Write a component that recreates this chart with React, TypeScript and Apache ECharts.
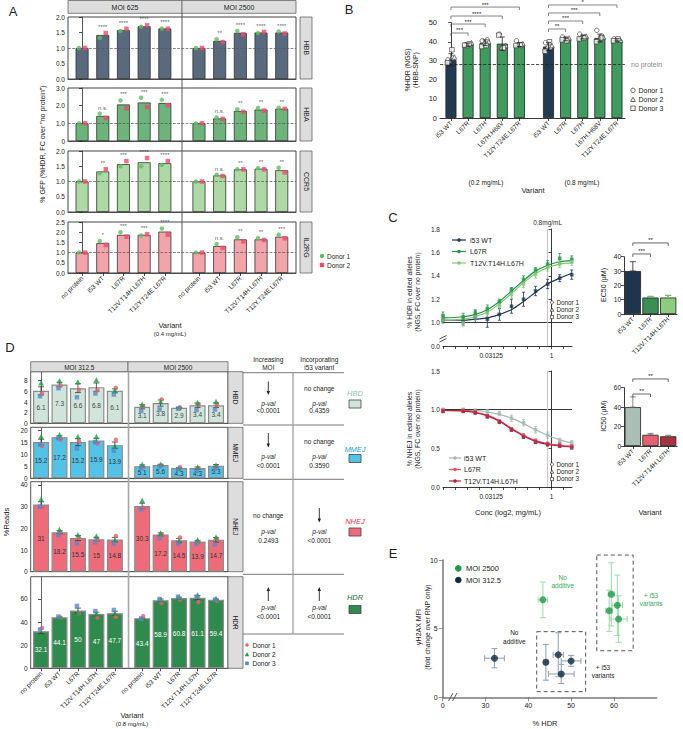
import React, { useEffect, useRef } from "react";
import * as echarts from "echarts";

const FONT = "'Liberation Sans', Arial, Helvetica, sans-serif";

/* ---------------- Panel A data ---------------- */
const A_VARIANTS = ["no protein", "i53 WT", "L67R", "T12V.T14H.L67H", "T12Y.T24E.L67R"];
const A_MOIS = ["MOI 625", "MOI 2500"];
const A_GENES = ["HBB", "HBA", "CCR5", "IL2RG"];
const A_DONORS = ["Donor 1", "Donor 2"];
const A_HBB_BAR = [1.0, 1.42, 1.58, 1.7, 1.63, 1.0, 1.23, 1.49, 1.5, 1.5];
const A_HBB_D1 = [1.0, 1.33, 1.55, 1.69, 1.63, 1.0, 1.28, 1.55, 1.48, 1.53];
const A_HBB_D2 = [1.0, 1.48, 1.62, 1.73, 1.62, 1.0, 1.19, 1.44, 1.52, 1.47];
const A_HBB_SIG = ["", "****", "****", "****", "****", "", "**", "****", "****", "****"];
const A_HBA_BAR = [1.0, 1.42, 2.07, 2.18, 2.15, 1.0, 1.28, 1.7, 1.78, 1.83];
const A_HBA_D1 = [1.0, 1.55, 2.3, 2.45, 2.33, 1.0, 1.33, 1.8, 1.87, 1.88];
const A_HBA_D2 = [1.0, 1.3, 1.85, 1.92, 2.02, 1.0, 1.25, 1.65, 1.72, 1.82];
const A_HBA_SIG = ["", "n.s.", "***", "***", "***", "", "n.s.", "**", "**", "**"];
const A_CCR5_BAR = [1.0, 1.33, 1.57, 1.63, 1.6, 1.0, 1.2, 1.4, 1.42, 1.37];
const A_CCR5_D1 = [1.0, 1.27, 1.5, 1.5, 1.55, 1.0, 1.22, 1.4, 1.44, 1.45];
const A_CCR5_D2 = [1.0, 1.4, 1.67, 1.77, 1.67, 1.0, 1.18, 1.4, 1.4, 1.3];
const A_CCR5_SIG = ["", "**", "***", "****", "****", "", "n.s.", "**", "**", "**"];
const A_IL2RG_BAR = [1.0, 1.47, 1.87, 1.87, 2.03, 1.0, 1.32, 1.65, 1.65, 1.78];
const A_IL2RG_D1 = [1.0, 1.57, 2.0, 1.84, 2.18, 1.0, 1.42, 1.75, 1.7, 1.88];
const A_IL2RG_D2 = [1.0, 1.38, 1.78, 1.9, 1.88, 1.0, 1.23, 1.55, 1.62, 1.7];
const A_IL2RG_SIG = ["", "*", "***", "***", "****", "", "n.s.", "**", "**", "***"];

/* ---------------- Panel B data ---------------- */
const B_VARIANTS = ["i53 WT", "L67R", "L67H", "L67H.H68V", "T12Y.T24E.L67R"];
const B_DOSES = ["(0.2 mg/mL)", "(0.8 mg/mL)"];
const B_MEAN = [30.5, 38.5, 39.5, 39.0, 38.5, 37.5, 41.5, 42.5, 42.0, 41.0];
const B_SD = [3.2, 0.8, 1.5, 3.5, 1.0, 2.2, 1.0, 1.0, 2.0, 0.6];
const B_DONOR1 = [[30.5, 31.5], [38.5, 39.0], [40.5, 41.0], [44.0, 36.5], [40.5, 38.0], [39.5, 37.0], [42.5, 41.0], [44.0, 42.5], [46.0, 43.0], [41.5, 41.0]];
const B_DONOR2 = [[29.8, 32.0], [38.0, 39.5], [39.5, 40.0], [37.0, 38.0], [38.5, 39.0], [37.5, 38.0], [41.5, 42.0], [42.5, 43.0], [41.0, 42.5], [41.0, 40.8]];
const B_DONOR3 = [[29.0, 35.8], [38.2, 38.8], [37.5, 38.0], [43.5, 36.8], [38.0, 38.5], [35.0, 40.0], [41.0, 40.5], [41.5, 42.0], [40.0, 42.0], [40.5, 41.5]];
const B_DONORS = ["Donor 1", "Donor 2", "Donor 3"];
const B_NO_PROTEIN = 28;
const B_SIG = [
  { from: 0, to: 1, y: 44.6, label: "***" },
  { from: 0, to: 2, y: 49.3, label: "***" },
  { from: 0, to: 3, y: 53.5, label: "****" },
  { from: 0, to: 4, y: 58.2, label: "***" },
  { from: 5, to: 6, y: 46.7, label: "**" },
  { from: 5, to: 7, y: 50.9, label: "***" },
  { from: 5, to: 8, y: 55.1, label: "***" },
  { from: 5, to: 9, y: 59.3, label: "*" },
];

/* ---------------- Panel C data ---------------- */
const C_CONC = [0.001953125, 0.00625, 0.0125, 0.025, 0.05, 0.1, 0.2, 0.4, 0.8, 1.6, 3.2];
const C_NAMES = ["i53 WT", "L67R", "T12V.T14H.L67H"];
const C_HDR_WT_MEAN = [1.02, 1.01, 1.05, 1.03, 1.07, 1.14, 1.2, 1.27, 1.33, 1.38, 1.41];
const C_HDR_WT_SD = [0.02, 0.03, 0.05, 0.07, 0.05, 0.06, 0.06, 0.04, 0.04, 0.03, 0.04];
const C_HDR_WT_FIT = [1.02, 1.02, 1.03, 1.04, 1.07, 1.11, 1.18, 1.26, 1.33, 1.38, 1.42];
const C_HDR_L67R_MEAN = [1.06, 1.05, 1.08, 1.12, 1.18, 1.28, 1.37, 1.45, 1.5, 1.55, 1.54];
const C_HDR_L67R_SD = [0.03, 0.03, 0.03, 0.03, 0.02, 0.02, 0.03, 0.02, 0.03, 0.04, 0.03];
const C_HDR_L67R_FIT = [1.04, 1.05, 1.07, 1.11, 1.18, 1.27, 1.36, 1.44, 1.49, 1.52, 1.53];
const C_HDR_T12V_MEAN = [1.02, 1.0, 1.05, 1.08, 1.14, 1.24, 1.33, 1.41, 1.47, 1.5, 1.52];
const C_HDR_T12V_SD = [0.03, 0.03, 0.03, 0.03, 0.03, 0.03, 0.03, 0.03, 0.03, 0.03, 0.03];
const C_HDR_T12V_FIT = [1.02, 1.03, 1.05, 1.09, 1.16, 1.25, 1.34, 1.42, 1.47, 1.5, 1.51];
const C_NHEJ_WT_MEAN = [1.0, 1.0, 0.98, 0.97, 0.95, 0.89, 0.83, 0.74, 0.67, 0.6, 0.57];
const C_NHEJ_WT_SD = [0.02, 0.02, 0.03, 0.03, 0.03, 0.04, 0.04, 0.04, 0.04, 0.03, 0.03];
const C_NHEJ_WT_FIT = [1.0, 0.99, 0.99, 0.97, 0.94, 0.89, 0.82, 0.74, 0.67, 0.61, 0.57];
const C_NHEJ_L67R_MEAN = [0.99, 0.99, 0.97, 0.92, 0.85, 0.75, 0.66, 0.6, 0.56, 0.55, 0.53];
const C_NHEJ_L67R_SD = [0.02, 0.02, 0.02, 0.02, 0.02, 0.02, 0.03, 0.02, 0.02, 0.02, 0.02];
const C_NHEJ_L67R_FIT = [0.99, 0.99, 0.97, 0.93, 0.86, 0.76, 0.67, 0.6, 0.56, 0.54, 0.53];
const C_NHEJ_T12V_MEAN = [0.98, 0.98, 0.96, 0.91, 0.84, 0.74, 0.65, 0.58, 0.55, 0.53, 0.51];
const C_NHEJ_T12V_SD = [0.02, 0.02, 0.02, 0.02, 0.02, 0.02, 0.02, 0.02, 0.02, 0.02, 0.02];
const C_NHEJ_T12V_FIT = [0.99, 0.98, 0.96, 0.92, 0.85, 0.75, 0.66, 0.59, 0.55, 0.53, 0.52];
const C_EC50 = [30, 11.5, 11.5];
const C_EC50_ERR = [6.5, 0.8, 1.5];
const C_IC50 = [40, 11.5, 10];
const C_IC50_ERR = [10.5, 1.5, 1.0];
const C_EC50_SIG = [{ from: 0, to: 1, y: 41.9, label: "***" }, { from: 0, to: 2, y: 49.6, label: "**" }];
const C_IC50_SIG = [{ from: 0, to: 1, y: 53.5, label: "**" }, { from: 0, to: 2, y: 69, label: "**" }];

/* ---------------- Panel D data ---------------- */
const D_VARIANTS = ["no protein", "i53 WT", "L67R", "T12V.T14H.L67H", "T12Y.T24E.L67R"];
const D_MOIS = ["MOI 312.5", "MOI 2500"];
const D_OUTCOMES = ["HBD", "MMEJ", "NHEJ", "HDR"];
const D_HBD = [6.1, 7.3, 6.6, 6.8, 6.1, 3.1, 3.8, 2.9, 3.4, 3.4];
const D_MMEJ = [15.2, 17.2, 15.2, 15.9, 13.9, 5.1, 5.6, 4.3, 4.3, 5.3];
const D_NHEJ = [31, 18.2, 15.5, 15, 14.8, 30.3, 17.2, 14.5, 13.9, 14.7];
const D_HDR = [32.1, 44.1, 50, 47, 47.7, 43.4, 58.9, 60.8, 61.1, 59.4];
const D_HBD_D1 = [5.6, 7.1, 6.3, 6.2, 6.7, 3.2, 4.5, 3.0, 3.5, 3.5];
const D_HBD_D2 = [7.6, 8.0, 7.8, 8.2, 6.2, 3.6, 4.1, 2.9, 3.9, 4.1];
const D_HBD_D3 = [5.1, 6.6, 4.9, 5.6, 5.4, 2.3, 2.6, 2.8, 2.5, 2.6];
const D_MMEJ_D1 = [13.5, 16.2, 15.7, 14.5, 16.2, 4.6, 5.3, 4.7, 4.1, 4.7];
const D_MMEJ_D2 = [17.5, 18.3, 17.5, 17.5, 13.5, 5.9, 5.9, 4.2, 4.6, 5.6];
const D_MMEJ_D3 = [14.3, 16.8, 12.5, 15.2, 11.6, 4.2, 4.9, 3.8, 3.0, 4.0];
const D_NHEJ_D1 = [29.5, 18.5, 15.6, 14.8, 16.5, 29.5, 17.3, 15.8, 13.6, 15.2];
const D_NHEJ_D2 = [33.5, 19.5, 17.0, 16.5, 14.5, 33.0, 17.8, 14.0, 14.7, 16.0];
const D_NHEJ_D3 = [30.0, 17.0, 13.0, 13.5, 13.0, 28.8, 15.5, 12.8, 12.8, 12.5];
const D_HDR_D1 = [35.0, 44.0, 47.5, 44.0, 44.5, 45.0, 56.5, 59.5, 57.5, 58.5];
const D_HDR_D2 = [28.0, 43.5, 48.0, 47.5, 48.0, 42.5, 59.5, 61.5, 63.5, 60.5];
const D_HDR_D3 = [33.5, 44.8, 54.0, 49.5, 50.5, 43.0, 60.0, 62.0, 62.0, 59.5];
const D_DONORS = ["Donor 1", "Donor 2", "Donor 3"];
const D_TABLE_HEAD = [["Increasing", "MOI"], ["Incorporating", "i53 variant"]];
const D_TABLE_PVAL = [["<0.0001", "0.4359"], ["<0.0001", "0.3590"], ["0.2493", "<0.0001"], ["<0.0001", "<0.0001"]];
const D_TABLE_TREND = [["down", "none"], ["down", "none"], ["none", "down"], ["up", "up"]];

/* ---------------- Panel E data ---------------- */
const E_GROUPS = ["MOI 2500", "MOI 312.5"];
const E_2500_X = [43.4, 59.4, 58.9, 60.8, 61.1];
const E_2500_Y = [7.1, 7.5, 6.3, 6.7, 5.7];
const E_2500_XERR = [1.1, 0.7, 0.8, 1.2, 2.0];
const E_2500_YERR = [1.3, 2.3, 1.5, 2.2, 1.7];
const E_312_X = [32.1, 44.1, 47.0, 50.0, 47.7];
const E_312_Y = [2.85, 2.55, 3.1, 2.65, 1.7];
const E_312_XERR = [2.3, 0.5, 1.2, 2.3, 3.0];
const E_312_YERR = [0.7, 1.3, 1.6, 0.4, 0.7];

/* ---------------- helpers ---------------- */
const posA = (i: number) => i + (i >= 5 ? 0.65 : 0);
const posB = (i: number) => i + (i >= 5 ? 0.7 : 0);
const posD = (i: number) => i + (i >= 5 ? 0.48 : 0);
const A_POS = [0, 1, 2, 3, 4, 5, 6, 7, 8, 9].map(posA);
const B_POS = [0, 1, 2, 3, 4, 5, 6, 7, 8, 9].map(posB);
const D_POS = [0, 1, 2, 3, 4, 5, 6, 7, 8, 9].map(posD);
const A_NAMES = [...A_VARIANTS, ...A_VARIANTS];
const B_NAMES = [...B_VARIANTS, ...B_VARIANTS];
const D_NAMES = [...D_VARIANTS, ...D_VARIANTS];

function labelAt(pos: number[], names: string[], v: number) {
  const i = pos.findIndex((p) => Math.abs(p - v) < 1e-6);
  return i >= 0 ? names[i] : "";
}
const sem = (arr: number[]) => {
  const m = arr.reduce((a, b) => a + b, 0) / arr.length;
  const v = arr.reduce((a, b) => a + (b - m) * (b - m), 0) / (arr.length - 1);
  return Math.sqrt(v) / Math.sqrt(arr.length);
};

function errSeries(gi: number, data: number[][], color: string, cap: number, width = 0.8, z = 4) {
  return {
    type: "custom",
    xAxisIndex: gi,
    yAxisIndex: gi,
    z,
    silent: true,
    data,
    encode: { x: 0, y: [1, 2] },
    renderItem: (_p: any, api: any) => {
      const x = api.value(0);
      const a = api.coord([x, api.value(1)]);
      const b = api.coord([x, api.value(2)]);
      const st = { stroke: color, lineWidth: width };
      return {
        type: "group",
        children: [
          { type: "line", shape: { x1: a[0], y1: a[1], x2: b[0], y2: b[1] }, style: st },
          { type: "line", shape: { x1: a[0] - cap, y1: a[1], x2: a[0] + cap, y2: a[1] }, style: st },
          { type: "line", shape: { x1: b[0] - cap, y1: b[1], x2: b[0] + cap, y2: b[1] }, style: st },
        ],
      };
    },
  };
}

function xyErrSeries(gi: number, data: number[][], color: string) {
  return {
    type: "custom",
    xAxisIndex: gi,
    yAxisIndex: gi,
    z: 3,
    silent: true,
    data,
    encode: { x: 0, y: 1 },
    renderItem: (_p: any, api: any) => {
      const x = api.value(0), y = api.value(1), ex = api.value(2), ey = api.value(3);
      const l = api.coord([x - ex, y]), r = api.coord([x + ex, y]);
      const t = api.coord([x, y + ey]), b = api.coord([x, y - ey]);
      const st = { stroke: color, lineWidth: 1.1 };
      const c = 3;
      return {
        type: "group",
        children: [
          { type: "line", shape: { x1: l[0], y1: l[1], x2: r[0], y2: r[1] }, style: st },
          { type: "line", shape: { x1: l[0], y1: l[1] - c, x2: l[0], y2: l[1] + c }, style: st },
          { type: "line", shape: { x1: r[0], y1: r[1] - c, x2: r[0], y2: r[1] + c }, style: st },
          { type: "line", shape: { x1: t[0], y1: t[1], x2: b[0], y2: b[1] }, style: st },
          { type: "line", shape: { x1: t[0] - c, y1: t[1], x2: t[0] + c, y2: t[1] }, style: st },
          { type: "line", shape: { x1: b[0] - c, y1: b[1], x2: b[0] + c, y2: b[1] }, style: st },
        ],
      };
    },
  };
}

const AXC = "#222";
const axLine = (color = AXC, width = 0.9) => ({ show: true, lineStyle: { color, width } });
const axTick = (extra: any = {}, color = AXC) => ({ show: true, length: 3, lineStyle: { color, width: 0.8 }, ...extra });
const axLab = (extra: any = {}) => ({ fontFamily: FONT, color: "#222", fontSize: 6.5, margin: 3, ...extra });

/* grid indices */
const GI = { A: 0, B: 4, CT: 5, EC: 6, CB: 7, IC: 8, D: 9, E: 13 };

function buildOption() {
  const grid: any[] = [];
  const xAxis: any[] = [];
  const yAxis: any[] = [];
  const series: any[] = [];
  const addGrid = (g: any, x: any, y: any) => {
    const i = grid.length;
    grid.push({ containLabel: false, ...g });
    xAxis.push({ gridIndex: i, splitLine: { show: false }, ...x });
    yAxis.push({ gridIndex: i, splitLine: { show: false }, ...y });
    return i;
  };

  /* ---------- A ---------- */
  const aRows = [
    { bar: A_HBB_BAR, d1: A_HBB_D1, d2: A_HBB_D2, sig: A_HBB_SIG, max: 2, step: 0.5, color: "#5a6a7e", top: 17, h: 62 },
    { bar: A_HBA_BAR, d1: A_HBA_D1, d2: A_HBA_D2, sig: A_HBA_SIG, max: 3, step: 1, color: "#6cb47a", top: 88, h: 53 },
    { bar: A_CCR5_BAR, d1: A_CCR5_D1, d2: A_CCR5_D2, sig: A_CCR5_SIG, max: 2, step: 0.5, color: "#acd9a4", top: 151, h: 61 },
    { bar: A_IL2RG_BAR, d1: A_IL2RG_D1, d2: A_IL2RG_D2, sig: A_IL2RG_SIG, max: 2.5, step: 0.5, color: "#f3a4ab", top: 222, h: 51 },
  ];
  aRows.forEach((r, k) => {
    const last = k === 3;
    const gi = addGrid(
      { left: 68, top: r.top, width: 228, height: r.h, show: true, borderColor: "#444", borderWidth: 1 },
      {
        type: "value", min: -0.68, max: 10.34,
        axisLine: axLine("#444"),
        axisTick: last ? axTick({ customValues: A_POS }) : { show: false },
        axisLabel: last
          ? axLab({ customValues: A_POS, rotate: 45, margin: 4, formatter: (v: number) => labelAt(A_POS, A_NAMES, v) })
          : { show: false },
      },
      {
        type: "value", min: 0, max: r.max, interval: r.step,
        axisLine: axLine("#444"), axisTick: axTick(),
        axisLabel: axLab({ formatter: (v: number) => (k === 1 && v === 0 ? "0" : v.toFixed(1)) }),
      }
    );
    series.push({
      type: "bar", xAxisIndex: gi, yAxisIndex: gi, barWidth: 13, z: 2,
      data: r.bar.map((v, i) => [A_POS[i], v]),
      itemStyle: { color: r.color, borderColor: "#333", borderWidth: 0.8 },
      markLine: {
        silent: true, symbol: ["none", "none"], label: { show: false },
        lineStyle: { color: "#555", type: "dashed", width: 0.7 },
        data: [{ yAxis: 1 }],
      },
    });
    series.push({
      type: "scatter", xAxisIndex: gi, yAxisIndex: gi, z: 5, symbol: "circle", symbolSize: 4.5,
      symbolOffset: [-3, 0], itemStyle: { color: "#5cbf5e" },
      data: r.d1.map((v, i) => [A_POS[i], v]),
    });
    series.push({
      type: "scatter", xAxisIndex: gi, yAxisIndex: gi, z: 5, symbol: "rect", symbolSize: 4.5,
      symbolOffset: [3, 0], itemStyle: { color: "#ee4a6c" },
      data: r.d2.map((v, i) => [A_POS[i], v]),
    });
    series.push({
      type: "scatter", xAxisIndex: gi, yAxisIndex: gi, z: 6, symbolSize: 0.1, silent: true,
      itemStyle: { color: "transparent" },
      label: { show: true, position: "top", distance: 3, fontSize: 6, color: "#333", fontFamily: FONT },
      data: r.sig.map((s, i) => ({
        value: [A_POS[i], Math.max(r.bar[i], r.d1[i], r.d2[i])],
        label: { show: s !== "", formatter: s },
      })),
    });
  });

  /* ---------- B ---------- */
  const bi = addGrid(
    { left: 440, top: 22.7, width: 185, height: 95.3 },
    {
      type: "value", min: -0.64, max: 10.17, axisLine: axLine(),
      axisTick: axTick({ customValues: B_POS }),
      axisLabel: axLab({ customValues: B_POS, rotate: 45, margin: 4, fontSize: 6.5, formatter: (v: number) => labelAt(B_POS, B_NAMES, v) }),
    },
    { type: "value", min: 0, max: 50, interval: 10, axisLine: axLine(), axisTick: axTick(), axisLabel: axLab({ fontSize: 7.5 }) }
  );
  series.push({
    type: "bar", xAxisIndex: bi, yAxisIndex: bi, barWidth: 11, z: 2,
    data: B_MEAN.map((v, i) => ({ value: [B_POS[i], v], itemStyle: { color: i % 5 === 0 ? "#233b52" : "#3f9c5e" } })),
    itemStyle: { borderColor: "#222", borderWidth: 0.8 },
    markLine: {
      silent: true, symbol: ["none", "none"], label: { show: false },
      lineStyle: { color: "#222", type: "dashed", width: 0.8 },
      data: [{ yAxis: B_NO_PROTEIN }],
    },
  });
  series.push(errSeries(bi, B_MEAN.map((v, i) => [B_POS[i], v - B_SD[i], v + B_SD[i]]), "#222", 2.5, 0.8, 7));
  const B_OFFS = [[-3, 2], [-1, 3.5], [-3.5, 1]];
  [B_DONOR1, B_DONOR2, B_DONOR3].forEach((d, k) => {
    series.push({
      type: "scatter", xAxisIndex: bi, yAxisIndex: bi, z: 6,
      symbol: ["circle", "triangle", "rect"][k], symbolSize: 4.5,
      itemStyle: { color: "#fff", borderColor: "#333", borderWidth: 0.8 },
      data: d.flatMap((reps, i) => reps.map((v, r) => ({ value: [B_POS[i], v], symbolOffset: [B_OFFS[k][r], 0] }))),
    });
  });

  /* ---------- C top ---------- */
  const L2 = C_CONC.map((c) => Math.log2(c));
  const C_TICKS = [-9, -8, -7, -6, -5, -4, -3, -2, -1, 0, 1];
  const cXAxis = {
    type: "value", min: -9, max: 1.7, axisLine: axLine(),
    axisTick: axTick({ customValues: C_TICKS }),
    axisLabel: axLab({ customValues: [-5, 0], margin: 6, formatter: (v: number) => (Math.abs(v + 5) < 1e-6 ? "0.03125" : "1") }),
  };
  const ct = addGrid(
    { left: 443, top: 229, width: 129, height: 117 },
    cXAxis,
    {
      type: "value", min: 0.8, max: 1.8, interval: 0.2, axisLine: axLine(), axisTick: axTick(),
      axisLabel: axLab({ formatter: (v: number) => (v < 0.85 ? "0.0" : v.toFixed(1)) }),
    }
  );
  const C_TOP = [
    { mean: C_HDR_WT_MEAN, sd: C_HDR_WT_SD, fit: C_HDR_WT_FIT, color: "#1c3550" },
    { mean: C_HDR_L67R_MEAN, sd: C_HDR_L67R_SD, fit: C_HDR_L67R_FIT, color: "#22964a" },
    { mean: C_HDR_T12V_MEAN, sd: C_HDR_T12V_SD, fit: C_HDR_T12V_FIT, color: "#86c879" },
  ];
  const C_BOT = [
    { mean: C_NHEJ_WT_MEAN, sd: C_NHEJ_WT_SD, fit: C_NHEJ_WT_FIT, color: "#a3bab0" },
    { mean: C_NHEJ_L67R_MEAN, sd: C_NHEJ_L67R_SD, fit: C_NHEJ_L67R_FIT, color: "#ea4a64" },
    { mean: C_NHEJ_T12V_MEAN, sd: C_NHEJ_T12V_SD, fit: C_NHEJ_T12V_FIT, color: "#a8283f" },
  ];
  const addCurves = (gi: number, rows: any[], withLabel: boolean) => {
    rows.forEach((r, k) => {
      series.push({
        type: "line", xAxisIndex: gi, yAxisIndex: gi, smooth: 0.35, showSymbol: false, z: 3 + k,
        lineStyle: { color: r.color, width: 1.2 }, itemStyle: { color: r.color },
        data: r.fit.map((v: number, i: number) => [L2[i], v]),
        markLine: k === 0 ? {
          silent: true, symbol: ["none", "none"],
          data: [
            { yAxis: 1, lineStyle: { color: "#222", type: "solid", width: 0.9 }, label: { show: false } },
            {
              xAxis: Math.log2(0.8), lineStyle: { color: "#c4c4c4", type: "solid", width: 1 },
              label: withLabel
                ? { show: true, position: "end", formatter: "0.8mg/mL", fontSize: 6.5, color: "#333", fontFamily: FONT, distance: 3 }
                : { show: false },
            },
          ],
        } : undefined,
      });
      series.push(errSeries(gi, r.mean.map((v: number, i: number) => [L2[i], v - r.sd[i], v + r.sd[i]]), r.color, 1.5, 0.8, 6));
      series.push({
        type: "scatter", xAxisIndex: gi, yAxisIndex: gi, z: 7 + k, symbol: "rect", symbolSize: 3.6,
        itemStyle: { color: r.color },
        data: r.mean.map((v: number, i: number) => [L2[i], v]),
      });
    });
  };
  addCurves(ct, C_TOP, true);

  /* EC50 */
  const ec = addGrid(
    { left: 624, top: 256.7, width: 53, height: 57.3 },
    {
      type: "category", data: C_NAMES, axisLine: axLine(), axisTick: axTick({ alignWithLabel: true }),
      axisLabel: axLab({ rotate: 45, margin: 4, interval: 0 }),
    },
    { type: "value", min: 0, max: 40, interval: 10, axisLine: axLine(), axisTick: axTick(), axisLabel: axLab() }
  );
  const EC_COL = ["#1f354b", "#3a8f55", "#8ccc80"];
  series.push({
    type: "bar", xAxisIndex: ec, yAxisIndex: ec, barCategoryGap: "8%", z: 2,
    data: C_EC50.map((v, i) => ({ value: v, itemStyle: { color: EC_COL[i] } })),
    itemStyle: { borderColor: "#222", borderWidth: 0.8 },
  });
  series.push(errSeries(ec, C_EC50.map((v, i) => [i, v, v + C_EC50_ERR[i]]), "#222", 3, 0.8, 5));
  series.push(errSeries(ec, C_EC50.map((v, i) => [i, v, v + C_EC50_ERR[i]]).slice(1), "#8ccc80", 3, 0.8, 5));

  /* ---------- C bottom ---------- */
  const cb = addGrid(
    { left: 443, top: 371, width: 129, height: 116 },
    cXAxis,
    { type: "value", min: 0, max: 1.5, interval: 0.5, axisLine: axLine(), axisTick: axTick(), axisLabel: axLab({ formatter: (v: number) => v.toFixed(1) }) }
  );
  addCurves(cb, C_BOT, false);

  /* IC50 */
  const ic = addGrid(
    { left: 624, top: 387.7, width: 53, height: 58.3 },
    {
      type: "category", data: C_NAMES, axisLine: axLine(), axisTick: axTick({ alignWithLabel: true }),
      axisLabel: axLab({ rotate: 45, margin: 4, interval: 0 }),
    },
    { type: "value", min: 0, max: 60, interval: 20, axisLine: axLine(), axisTick: axTick(), axisLabel: axLab() }
  );
  const IC_COL = ["#a9bfb6", "#e8606f", "#a8323e"];
  series.push({
    type: "bar", xAxisIndex: ic, yAxisIndex: ic, barCategoryGap: "8%", z: 2,
    data: C_IC50.map((v, i) => ({ value: v, itemStyle: { color: IC_COL[i] } })),
    itemStyle: { borderColor: "#222", borderWidth: 0.8 },
  });
  series.push(errSeries(ic, C_IC50.map((v, i) => [i, v, v + C_IC50_ERR[i]]), "#666", 3, 0.8, 5));

  /* ---------- D ---------- */
  const dRows = [
    { bar: D_HBD, d: [D_HBD_D1, D_HBD_D2, D_HBD_D3], color: "#d0e4da", lab: "#444", top: 371.7, h: 51.6, max: 9.7, step: 2 },
    { bar: D_MMEJ, d: [D_MMEJ_D1, D_MMEJ_D2, D_MMEJ_D3], color: "#52c3e6", lab: "#333", top: 427.3, h: 51, max: 21.4, step: 5 },
    { bar: D_NHEJ, d: [D_NHEJ_D1, D_NHEJ_D2, D_NHEJ_D3], color: "#ef6b7a", lab: "#333", top: 481.7, h: 90, max: 41.5, step: 10 },
    { bar: D_HDR, d: [D_HDR_D1, D_HDR_D2, D_HDR_D3], color: "#2f8a4e", lab: "#fff", top: 576.7, h: 91.6, max: 79.3, step: 20 },
  ];
  dRows.forEach((r, k) => {
    const last = k === 3;
    const gi = addGrid(
      { left: 30.7, top: r.top, width: 197.3, height: r.h, show: true, borderColor: "#555", borderWidth: 1 },
      {
        type: "value", min: -0.56, max: 10.13, axisLine: axLine("#555"),
        axisTick: last ? axTick({ customValues: D_POS }) : { show: false },
        axisLabel: last
          ? axLab({ customValues: D_POS, rotate: 45, margin: 4, formatter: (v: number) => labelAt(D_POS, D_NAMES, v) })
          : { show: false },
      },
      {
        type: "value", min: 0, max: r.max, interval: r.step, axisLine: axLine("#555"),
        axisTick: axTick(),
        axisLabel: axLab({ fontSize: 6.5, showMaxLabel: false, formatter: (v: number) => (Math.abs(v % r.step) < 1e-6 ? String(v) : "") }),
      }
    );
    series.push({
      type: "bar", xAxisIndex: gi, yAxisIndex: gi, barWidth: 16, z: 2,
      data: r.bar.map((v, i) => [D_POS[i], v]),
      itemStyle: { color: r.color, borderColor: "#8c8c8c", borderWidth: 1.2 },
      label: {
        show: true, position: "inside", fontSize: 6.5, color: r.lab, fontFamily: FONT,
        formatter: (p: any) => String(p.value[1]),
      },
    });
    series.push(errSeries(gi, r.bar.map((v, i) => {
      const e = sem([r.d[0][i], r.d[1][i], r.d[2][i]]);
      return [D_POS[i], v - e, v + e];
    }), "#333", 3, 0.8, 5));
    const sym = ["circle", "triangle", "rect"];
    const col = ["#ee5f6b", "#1a9e46", "#5a88c8"];
    const size = [4.5, 5.5, 4.5];
    const off = [1, 0, -1];
    r.d.forEach((arr, j) => {
      series.push({
        type: "scatter", xAxisIndex: gi, yAxisIndex: gi, z: 6 + j, symbol: sym[j], symbolSize: size[j],
        symbolOffset: [off[j], 0], itemStyle: { color: col[j] },
        data: arr.map((v, i) => [D_POS[i], v]),
      });
    });
  });

  /* ---------- E ---------- */
  const ei = addGrid(
    { left: 442.7, top: 560, width: 214, height: 137.3 },
    {
      type: "value", min: 20, max: 70, interval: 10, axisLine: axLine("#777", 1.5),
      axisTick: axTick({ customValues: [20, 30, 40, 50, 60], length: 4 }, "#777"),
      axisLabel: axLab({ fontSize: 7, margin: 5, customValues: [20, 30, 40, 50, 60], formatter: (v: number) => (v === 20 ? "0" : String(v)) }),
    },
    {
      type: "value", min: 0, max: 10, interval: 5, axisLine: axLine("#777", 1.5),
      axisTick: axTick({ length: 4 }, "#777"), axisLabel: axLab({ fontSize: 7, margin: 5 }),
    }
  );
  series.push(xyErrSeries(ei, E_2500_X.map((x, i) => [x, E_2500_Y[i], E_2500_XERR[i], E_2500_YERR[i]]), "#a6dbb2"));
  series.push(xyErrSeries(ei, E_312_X.map((x, i) => [x, E_312_Y[i], E_312_XERR[i], E_312_YERR[i]]), "#97a6b8"));
  series.push({
    type: "scatter", xAxisIndex: ei, yAxisIndex: ei, z: 6, symbolSize: 7, itemStyle: { color: "#1f9a4b" },
    data: E_2500_X.map((x, i) => [x, E_2500_Y[i]]),
  });
  series.push({
    type: "scatter", xAxisIndex: ei, yAxisIndex: ei, z: 6, symbolSize: 7, itemStyle: { color: "#0f2a40" },
    data: E_312_X.map((x, i) => [x, E_312_Y[i]]),
  });

  return {
    animation: false,
    backgroundColor: "#ffffff",
    textStyle: { fontFamily: FONT },
    grid, xAxis, yAxis, series,
  };
}

/* ---------------- graphic helpers ---------------- */
const T = (x: number, y: number, text: string, o: any = {}) => ({
  type: "text", x, y, rotation: o.rot || 0, silent: true, z: 100,
  style: {
    text, fill: o.color || "#222", fontSize: o.size || 7, fontFamily: FONT,
    fontStyle: o.italic ? "italic" : "normal", fontWeight: o.bold ? "bold" : "normal",
    textAlign: o.align || "center", textVerticalAlign: "middle",
    align: o.align || "center", verticalAlign: "middle",
  },
});
const R = (x: number, y: number, w: number, h: number, fill: string, stroke = "#777", lw = 0.8, dash?: number[]) => ({
  type: "rect", shape: { x, y, width: w, height: h }, silent: true, z: 90,
  style: { fill, stroke, lineWidth: lw, ...(dash ? { lineDash: dash } : {}) },
});
const L = (x1: number, y1: number, x2: number, y2: number, stroke = "#222", lw = 0.8, dash?: number[]) => ({
  type: "line", shape: { x1, y1, x2, y2 }, silent: true, z: 95,
  style: { stroke, lineWidth: lw, ...(dash ? { lineDash: dash } : {}) },
});
const Circ = (cx: number, cy: number, r: number, fill: string, stroke = "none") => ({
  type: "circle", shape: { cx, cy, r }, silent: true, z: 100, style: { fill, stroke, lineWidth: 0.8 },
});
const Tri = (cx: number, cy: number, s: number, fill: string, stroke = "none") => ({
  type: "polygon", silent: true, z: 100,
  shape: { points: [[cx, cy - s], [cx + s, cy + s * 0.8], [cx - s, cy + s * 0.8]] },
  style: { fill, stroke, lineWidth: 0.8 },
});
const arrow = (x: number, yTail: number, yHead: number) => {
  const s = yTail > yHead ? 1 : -1;
  return [
    L(x, yTail, x, yHead + s * 2, "#222", 0.9),
    { type: "polygon", silent: true, z: 100, shape: { points: [[x - 1.7, yHead + s * 4], [x + 1.7, yHead + s * 4], [x, yHead]] }, style: { fill: "#222" } },
  ];
};

function buildGraphic(chart: any) {
  const px = (gi: number, x: number, y: number) =>
    chart.convertToPixel({ xAxisIndex: gi, yAxisIndex: gi }, [x, y]) as number[];
  const el: any[] = [];

  /* ---------- A ---------- */
  el.push(T(13, 11, "A", { size: 13 }));
  el.push(R(68, 0.5, 114, 12.8, "#dddddd", "#666"));
  el.push(R(182, 0.5, 114, 12.8, "#dddddd", "#666"));
  el.push(T(125, 7, A_MOIS[0], { size: 7 }));
  el.push(T(239, 7, A_MOIS[1], { size: 7 }));
  const aGeom = [[17, 62], [88, 53], [151, 61], [222, 51]];
  aGeom.forEach(([top, h], k) => {
    el.push(R(300, top, 12, h, "#dddddd", "#666"));
    el.push(T(306, top + h / 2, A_GENES[k], { rot: -Math.PI / 2, size: 7 }));
  });
  const aDiv = px(GI.A, 4.83, 0)[0];
  el.push(L(aDiv, 13, aDiv, 273, "#555", 1));
  el.push(T(42, 144, '% GFP (%HDR, FC over "no protein")', { rot: Math.PI / 2, size: 7 }));
  el.push(T(170, 325, "Variant", { size: 7.5 }));
  el.push(T(170, 333.5, "(0.4 mg/mL)", { size: 6 }));
  el.push(Circ(322, 256, 2.2, "#5cbf5e"));
  el.push(T(327, 256, A_DONORS[0], { align: "left", size: 6.5 }));
  el.push(R(319.8, 262.8, 4.4, 4.4, "#ee4a6c", "none", 0));
  el.push(T(327, 265, A_DONORS[1], { align: "left", size: 6.5 }));

  /* ---------- B ---------- */
  el.push(T(349, 9, "B", { size: 13 }));
  el.push(T(407, 70, "%HDR (NGS)", { rot: Math.PI / 2, size: 7 }));
  el.push(T(415.5, 70, "(HBB-SNP)", { rot: Math.PI / 2, size: 7 }));
  el.push(T(631, 64.5, "no protein", { align: "left", color: "#888", size: 7 }));
  el.push(Circ(633, 90.3, 2.2, "#fff", "#444"));
  el.push(Tri(633, 99.6, 2.4, "#fff", "#444"));
  el.push(R(630.8, 106.1, 4.4, 4.4, "#fff", "#444"));
  B_DONORS.forEach((d, k) => el.push(T(638.5, 90.3 + k * 9, d, { align: "left", size: 7 })));
  el.push(T(486, 182, B_DOSES[0], { size: 6.5 }));
  el.push(T(582, 182, B_DOSES[1], { size: 6.5 }));
  el.push(T(533, 190, "Variant", { size: 7.5 }));
  B_SIG.forEach((s) => {
    const a = px(GI.B, B_POS[s.from], s.y);
    const b = px(GI.B, B_POS[s.to], s.y);
    el.push({
      type: "polyline", silent: true, z: 95,
      shape: { points: [[a[0], a[1] + 3], [a[0], a[1]], [b[0], b[1]], [b[0], b[1] + 3]] },
      style: { stroke: "#666", lineWidth: 0.8, fill: "none" },
    });
    el.push(T((a[0] + b[0]) / 2, a[1] - 2.5, s.label, { size: 6 }));
  });

  /* ---------- C ---------- */
  el.push(T(393, 217, "C", { size: 13 }));
  const cTopCols = ["#1c3550", "#22964a", "#86c879"];
  const cBotCols = ["#a3bab0", "#ea4a64", "#a8283f"];
  [240, 251.5, 263].forEach((y, k) => {
    el.push(L(452, y, 466, y, cTopCols[k], 1.2));
    el.push(Circ(459, y, 1.8, cTopCols[k]));
    el.push(T(470, y, C_NAMES[k], { align: "left", size: 7 }));
  });
  [458, 469.5, 481].forEach((y, k) => {
    el.push(L(449, y, 461, y, cBotCols[k], 1.2));
    el.push(Circ(455, y, 1.8, cBotCols[k]));
    el.push(T(464, y, C_NAMES[k], { align: "left", size: 7 }));
  });
  const donorLegend = (x: number, y0: number) => {
    el.push(Circ(x, y0, 1.6, "#fff", "#444"));
    el.push(Tri(x, y0 + 7.3, 1.8, "#fff", "#444"));
    el.push(R(x - 1.6, y0 + 13, 3.2, 3.2, "#fff", "#444"));
    B_DONORS.forEach((d, k) => el.push(T(x + 4.5, y0 + k * 7, d, { align: "left", size: 6.3 })));
  };
  donorLegend(552, 302.5);
  donorLegend(552, 464.5);
  el.push(T(409, 292, "% HDR in edited alleles", { rot: Math.PI / 2, size: 6.8 }));
  el.push(T(417.5, 292, "(NGS, FC over no protein)", { rot: Math.PI / 2, size: 6.8 }));
  el.push(T(409, 429, "% NHEJ in edited alleles", { rot: Math.PI / 2, size: 6.8 }));
  el.push(T(417.5, 429, "(NGS, FC over no protein)", { rot: Math.PI / 2, size: 6.8 }));
  el.push(T(508, 512, "Conc (log2, mg/mL)", { size: 7.5 }));
  el.push(T(603, 285, "EC50 (μM)", { rot: Math.PI / 2, size: 7 }));
  el.push(T(603, 416, "IC50 (μM)", { rot: Math.PI / 2, size: 7 }));
  el.push(T(650, 512, "Variant", { size: 7.5 }));
  // y-axis break marks (C top)
  el.push(R(440, 336.5, 6, 4.5, "#fff", "none", 0));
  el.push(L(439.5, 339, 446.5, 335.5, "#222", 0.8));
  el.push(L(439.5, 342, 446.5, 338.5, "#222", 0.8));
  const bracket = (gi: number, sig: any[]) =>
    sig.forEach((s) => {
      const a = px(gi, s.from, s.y);
      const b = px(gi, s.to, s.y);
      el.push({
        type: "polyline", silent: true, z: 95,
        shape: { points: [[a[0], a[1] + 3], [a[0], a[1]], [b[0], b[1]], [b[0], b[1] + 3]] },
        style: { stroke: "#444", lineWidth: 0.8, fill: "none" },
      });
      el.push(T((a[0] + b[0]) / 2, a[1] - 3, s.label, { size: 6 }));
    });
  bracket(GI.EC, C_EC50_SIG);
  bracket(GI.IC, C_IC50_SIG);

  /* ---------- D ---------- */
  el.push(T(10, 347, "D", { size: 13 }));
  el.push(R(30.7, 361.7, 97.3, 10, "#dddddd", "#666"));
  el.push(R(128, 361.7, 100, 10, "#dddddd", "#666"));
  el.push(T(79.3, 367, D_MOIS[0], { size: 6.5 }));
  el.push(T(178, 367, D_MOIS[1], { size: 6.5 }));
  const dGeom = [[371.7, 51.6], [427.3, 51], [481.7, 90], [576.7, 91.6]];
  dGeom.forEach(([top, h], k) => {
    el.push(R(228, top, 15, h, "#dddddd", "#666"));
    el.push(T(235.5, top + h / 2, D_OUTCOMES[k], { rot: -Math.PI / 2, size: 6.5 }));
  });
  const dDiv = px(GI.D, 4.74, 0)[0];
  el.push(L(dDiv, 371.7, dDiv, 668.3, "#a8a8a8", 1.6));
  el.push(T(6, 522, "%Reads", { rot: Math.PI / 2, size: 7.5 }));
  el.push(T(132, 715, "Variant", { size: 7.5 }));
  el.push(T(132, 723.5, "(0.8 mg/mL)", { size: 6 }));
  // table
  const c1 = 268.3, c2 = 319.3;
  el.push(T(c1, 359, D_TABLE_HEAD[0][0], { size: 6.5 }));
  el.push(T(c1, 367, D_TABLE_HEAD[0][1], { size: 6.5 }));
  el.push(T(c2, 359, D_TABLE_HEAD[1][0], { size: 6.5 }));
  el.push(T(c2, 367, D_TABLE_HEAD[1][1], { size: 6.5 }));
  [372.7, 425, 479.3, 574.3, 634].forEach((y) => el.push(L(243, y, 344, y, "#555", 0.8)));
  el.push(L(293, 372.7, 293, 634, "#a0a0a0", 1.3));
  const rowsY = [
    { trend: 381.5, tail: 395, pval: 403, val: 410.7, nc: 388 },
    { trend: 433, tail: 447.5, pval: 456.7, val: 465, nc: 441 },
    { trend: 508, tail: 522.5, pval: 531.7, val: 540, nc: 515.7 },
    { trend: 587, tail: 601, pval: 607.7, val: 616.7, nc: 592 },
  ];
  rowsY.forEach((ry, k) => {
    [c1, c2].forEach((cx, j) => {
      const tr = D_TABLE_TREND[k][j];
      if (tr === "down") el.push(...arrow(cx, ry.trend, ry.tail));
      else if (tr === "up") el.push(...arrow(cx, ry.tail, ry.trend));
      else el.push(T(cx, ry.nc, "no change", { size: 6.5 }));
      el.push(T(cx, ry.pval, "p-val", { size: 6.5, italic: true }));
      el.push(T(cx, ry.val, D_TABLE_PVAL[k][j], { size: 6.5 }));
    });
  });
  const legD = [
    { y: 393, by: 400, color: "#93bfab", fill: "#d0e4da" },
    { y: 449, by: 454.5, color: "#2a9fd1", fill: "#52c3e6" },
    { y: 521.7, by: 528, color: "#d8324e", fill: "#ef6b7a" },
    { y: 597.7, by: 605.5, color: "#1f6e3c", fill: "#2f8a4e" },
  ];
  legD.forEach((l, k) => {
    el.push(T(355, l.y, D_OUTCOMES[k], { size: 7.5, italic: true, color: l.color }));
    el.push(R(349, l.by, 12, 8, l.fill, "#444", 0.8));
  });
  el.push(Circ(247, 645, 1.8, "#ee5f6b"));
  el.push(Tri(247, 654.5, 2.2, "#1a9e46"));
  el.push(R(245.2, 661.5, 3.6, 3.6, "#5a88c8", "none", 0));
  D_DONORS.forEach((d, k) => el.push(T(252.5, 645 + k * 9.1, d, { align: "left", size: 6.5 })));

  /* ---------- E ---------- */
  el.push(T(393, 553, "E", { size: 13 }));
  el.push(Circ(458.3, 568.3, 3.3, "#1f9a4b"));
  el.push(T(466, 568.3, E_GROUPS[0], { align: "left", size: 7.5 }));
  el.push(Circ(458.3, 580, 3.3, "#0f2a40"));
  el.push(T(466, 580, E_GROUPS[1], { align: "left", size: 7.5 }));
  el.push(T(562.7, 577, "No", { size: 6.5, color: "#3aa55a" }));
  el.push(T(562.7, 585.7, "additive", { size: 6.5, color: "#3aa55a" }));
  el.push(T(514.3, 632.3, "No", { size: 6.5 }));
  el.push(T(514.3, 641, "additive", { size: 6.5 }));
  el.push(T(651, 595, "+ i53", { size: 6.5, color: "#3aa55a" }));
  el.push(T(651, 603.5, "variants", { size: 6.5, color: "#3aa55a" }));
  el.push(T(603, 667, "+ i53", { size: 6.5 }));
  el.push(T(603, 675.5, "variants", { size: 6.5 }));
  el.push(T(418, 627, "yH2AX MFI", { rot: Math.PI / 2, size: 7 }));
  el.push(T(427.5, 627, "(fold change over RNP only)", { rot: Math.PI / 2, size: 6.8 }));
  el.push(T(545, 723, "% HDR", { size: 7.5 }));
  el.push(L(448.5, 701, 453, 693, "#555", 1));
  el.push(L(452.5, 701, 457, 693, "#555", 1));
  const box = (x0: number, x1: number, y0: number, y1: number) => {
    const a = px(GI.E, x0, y0);
    const b = px(GI.E, x1, y1);
    el.push(R(Math.min(a[0], b[0]), Math.min(a[1], b[1]), Math.abs(b[0] - a[0]), Math.abs(b[1] - a[1]), "none", "#555", 1, [4, 3]));
  };
  box(56.0, 64.5, 10.36, 3.39);
  box(41.96, 53.4, 4.78, 0.41);

  return el;
}

export default function App() {
  const ref = useRef<HTMLDivElement>(null);
  useEffect(() => {
    const chart = echarts.init(ref.current as HTMLDivElement, undefined, { renderer: "svg" });
    chart.setOption(buildOption());
    chart.setOption({ graphic: { elements: buildGraphic(chart) } });
    return () => chart.dispose();
  }, []);
  return (
    <div
      ref={ref}
      style={{ position: "absolute", left: 0, top: 0, width: 683, height: 729, background: "#fff" }}
    />
  );
}
